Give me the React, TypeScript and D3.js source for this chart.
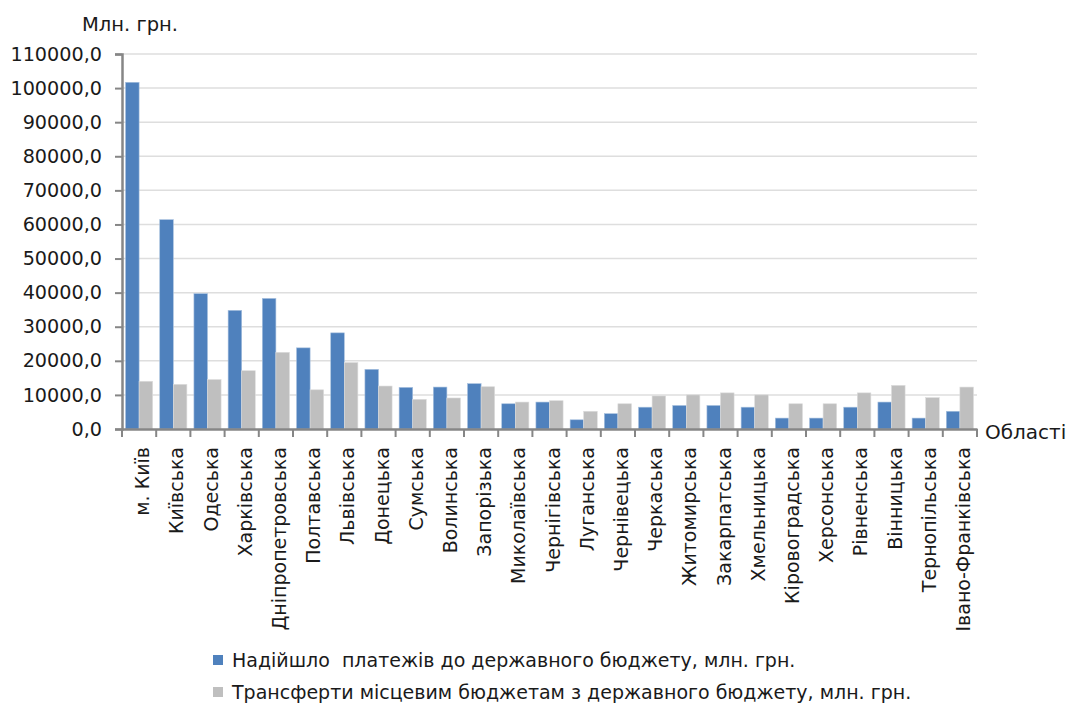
import React, { useEffect, useRef } from 'react'
import * as d3 from 'd3'

const regions = [
  'м. Київ', 'Київська', 'Одеська', 'Харківська', 'Дніпропетровська', 'Полтавська',
  'Львівська', 'Донецька', 'Сумська', 'Волинська', 'Запорізька', 'Миколаївська',
  'Чернігівська', 'Луганська', 'Чернівецька', 'Черкаська', 'Житомирська', 'Закарпатська',
  'Хмельницька', 'Кіровоградська', 'Херсонська', 'Рівненська', 'Вінницька',
  'Тернопільська', 'Івано-Франківська',
]

// надійшло платежів до державного бюджету, млн. грн.
const payments = [
  101700, 61400, 39700, 34800, 38300, 23800, 28200, 17500, 12200, 12300, 13300, 7400,
  7900, 2700, 4500, 6400, 6900, 6900, 6400, 3200, 3200, 6400, 7900, 3200, 5200,
]

// трансферти місцевим бюджетам з державного бюджету, млн. грн.
const transfers = [
  14000, 13100, 14500, 17100, 22500, 11500, 19500, 12600, 8700, 9100, 12400, 7900,
  8300, 5200, 7400, 9700, 10000, 10600, 10000, 7400, 7400, 10600, 12800, 9200, 12300,
]

const seriesNames = [
  'Надійшло  платежів до державного бюджету, млн. грн.',
  'Трансферти місцевим бюджетам з державного бюджету, млн. грн.',
]
const yTicks = d3.range(0, 110001, 10000)

export default function App() {
  const ref = useRef<SVGSVGElement>(null)

  useEffect(() => {
    const svg = d3.select(ref.current)
    svg.selectAll('*').remove()

    const left = 122, right = 977, top = 54, bottom = 429
    const font = 'DejaVu Sans, sans-serif'
    const colors = ['#4f81bd', '#bfbfbf']

    const x = d3.scaleBand<string>().domain(regions).range([left, right])
    const sub = d3.scaleBand<number>().domain([0, 1]).range([0, x.bandwidth()]).paddingOuter(0.26)
    const y = d3.scaleLinear().domain([0, 110000]).range([bottom, top])

    // grid
    svg.append('g')
      .selectAll('line')
      .data(yTicks.slice(1))
      .enter()
      .append('line')
      .attr('x1', left)
      .attr('x2', right)
      .attr('y1', d => y(d))
      .attr('y2', d => y(d))
      .attr('stroke', '#dedede')
      .attr('stroke-width', 1.5)

    // bars
    const data = regions.map((r, i) => ({ r, vals: [payments[i], transfers[i]] }))
    const g = svg.append('g')
      .selectAll('g')
      .data(data)
      .enter()
      .append('g')
      .attr('transform', d => `translate(${x(d.r)},0)`)
    g.selectAll('rect')
      .data(d => d.vals.map((v, k) => ({ v, k })))
      .enter()
      .append('rect')
      .attr('x', d => sub(d.k)!)
      .attr('width', sub.bandwidth())
      .attr('y', d => y(d.v))
      .attr('height', d => bottom - y(d.v))
      .attr('fill', d => colors[d.k])
      .attr('stroke', d => (d.k === 0 ? '#a7c0de' : '#dcdcdc'))
      .attr('stroke-width', 0.6)

    // y axis
    const yAxis = svg.append('g')
      .attr('transform', `translate(${left},0)`)
      .call(
        d3.axisLeft(y)
          .tickValues(yTicks)
          .tickSize(7)
          .tickPadding(13)
          .tickFormat(d => d3.format('.1f')(d as number).replace('.', ','))
      )
    yAxis.select('.domain').attr('stroke', '#868686').attr('stroke-width', 2.5)
    yAxis.selectAll('.tick line').attr('stroke', '#868686').attr('stroke-width', 2)
    yAxis.selectAll('.tick text')
      .attr('font-family', font)
      .attr('font-size', 19.2)
      .attr('fill', '#1a1a1a')

    // x axis
    const xAxis = svg.append('g')
      .attr('transform', `translate(0,${bottom})`)
      .call(d3.axisBottom(x).tickSize(0).tickSizeOuter(0).tickPadding(0))
    xAxis.select('.domain').attr('stroke', '#868686').attr('stroke-width', 2.5)
    xAxis.selectAll('.tick text')
      .attr('font-family', font)
      .attr('font-size', 19)
      .attr('fill', '#1a1a1a')
      .attr('text-anchor', 'end')
      .attr('dy', null)
      .attr('dominant-baseline', 'central')
      .attr('transform', 'translate(3,18) rotate(-90)')

    // category boundary ticks
    svg.append('g')
      .selectAll('line')
      .data(d3.range(regions.length + 1))
      .enter()
      .append('line')
      .attr('x1', i => left + i * x.step())
      .attr('x2', i => left + i * x.step())
      .attr('y1', bottom)
      .attr('y2', bottom + 8)
      .attr('stroke', '#868686')
      .attr('stroke-width', 2)

    svg.append('text')
      .attr('x', 82)
      .attr('y', 31)
      .attr('font-family', font)
      .attr('font-size', 19.5)
      .attr('fill', '#1a1a1a')
      .text('Млн. грн.')

    svg.append('text')
      .attr('x', 985)
      .attr('y', 439)
      .attr('font-family', font)
      .attr('font-size', 20)
      .attr('fill', '#1a1a1a')
      .text('Області')

    // legend
    const legend = svg.append('g')
      .selectAll('g')
      .data(seriesNames)
      .enter()
      .append('g')
      .attr('transform', (_, i) => `translate(213,${655 + i * 32})`)
    legend.append('rect')
      .attr('width', 10)
      .attr('height', 10)
      .attr('fill', (_, i) => colors[i])
    legend.append('text')
      .attr('x', 19)
      .attr('y', 5)
      .attr('dominant-baseline', 'central')
      .attr('font-family', font)
      .attr('font-size', 19)
      .attr('fill', '#1a1a1a')
      .style('white-space', 'pre')
      .text(d => d)
  }, [])

  return (
    <svg
      ref={ref}
      width={1068}
      height={704}
      style={{ position: 'absolute', left: 0, top: 0, background: '#fff' }}
    />
  )
}
